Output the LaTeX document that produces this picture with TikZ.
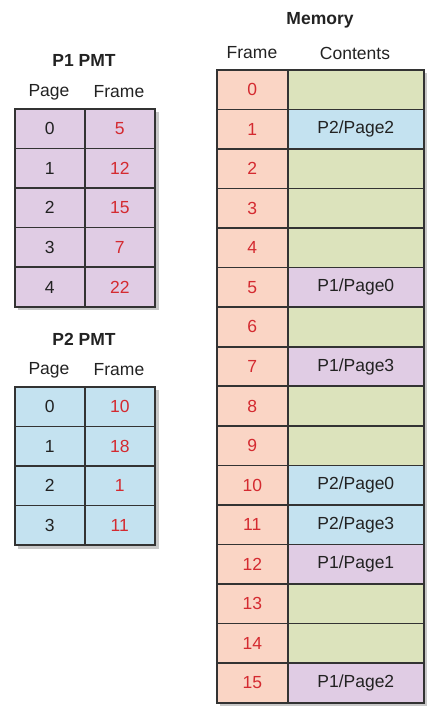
\documentclass[tikz,border=0pt]{standalone}
\usepackage{fontspec}
\setmainfont{Liberation Sans}
\definecolor{pmtpurple}{HTML}{E0CCE4}
\definecolor{pmtblue}{HTML}{C4E2F0}
\definecolor{framesalmon}{HTML}{FAD5C5}
\definecolor{freegreen}{HTML}{DCE3BC}
\definecolor{numred}{HTML}{D42A30}
\definecolor{inkdark}{HTML}{222222}
\definecolor{edgedark}{HTML}{333333}
\definecolor{shadowgrey}{HTML}{C8C8C8}
\begin{document}
\begin{tikzpicture}[x=1pt,y=-1pt,
  every node/.style={font=\fontsize{17.5}{20}\selectfont, text=inkdark},
  cell/.style={draw=edgedark, line width=1.6pt, anchor=north west, inner sep=0pt, minimum height=39.6pt},
  narrowcell/.style={cell, minimum width=70pt},
  memframe/.style={cell, minimum width=71pt, fill=framesalmon, text=numred},
  memcont/.style={cell, minimum width=136pt},
  titletext/.style={font=\bfseries\fontsize{17.5}{20}\selectfont},
  headtext/.style={},
  shadowbox/.style={fill=shadowgrey}
]
\useasboundingbox (0,0) rectangle (438,717);

% shadows
\fill[shadowgrey] (18,112) rectangle (159,310);
\fill[shadowgrey] (18,390) rectangle (159,549.4);
\fill[shadowgrey] (220,73) rectangle (427,706);

% P1 PMT
\node[titletext] (p1title) at (84,60) {P1 PMT};
\node[headtext] (p1page) at (49,92) {Page};
\node[headtext] (p1frame) at (119,92) {Frame};
\foreach \pg/\fr [count=\i from 0] in {0/5,1/12,2/15,3/7,4/22} {
  \node[narrowcell, fill=pmtpurple] (p1pg\i) at (14,108+39.6*\i) {\pg};
  \node[narrowcell, fill=pmtpurple, text=numred] (p1fr\i) at (84,108+39.6*\i) {\fr};
}

% P2 PMT
\node[titletext] (p2title) at (84,339) {P2 PMT};
\node[headtext] (p2page) at (49,370) {Page};
\node[headtext] (p2frame) at (119,370) {Frame};
\foreach \pg/\fr [count=\i from 0] in {0/10,1/18,2/1,3/11} {
  \node[narrowcell, fill=pmtblue] (p2pg\i) at (14,386+39.6*\i) {\pg};
  \node[narrowcell, fill=pmtblue, text=numred] (p2fr\i) at (84,386+39.6*\i) {\fr};
}

% Memory
\node[titletext] (memtitle) at (320,20) {Memory};
\node[headtext] (memframe) at (252,53) {Frame};
\node[headtext] (memcontents) at (355,53) {Contents};
\foreach \col/\txt [count=\i from 0] in {freegreen/{},pmtblue/P2\slash Page2,freegreen/{},freegreen/{},freegreen/{},pmtpurple/P1\slash Page0,freegreen/{},pmtpurple/P1\slash Page3,freegreen/{},freegreen/{},pmtblue/P2\slash Page0,pmtblue/P2\slash Page3,pmtpurple/P1\slash Page1,freegreen/{},freegreen/{},pmtpurple/P1\slash Page2} {
  \node[memframe] (mf\i) at (216,69+39.56*\i) {\i};
  \node[memcont, fill=\col] (mc\i) at (287,69+39.56*\i) {\txt};
}
\end{tikzpicture}
\end{document}
